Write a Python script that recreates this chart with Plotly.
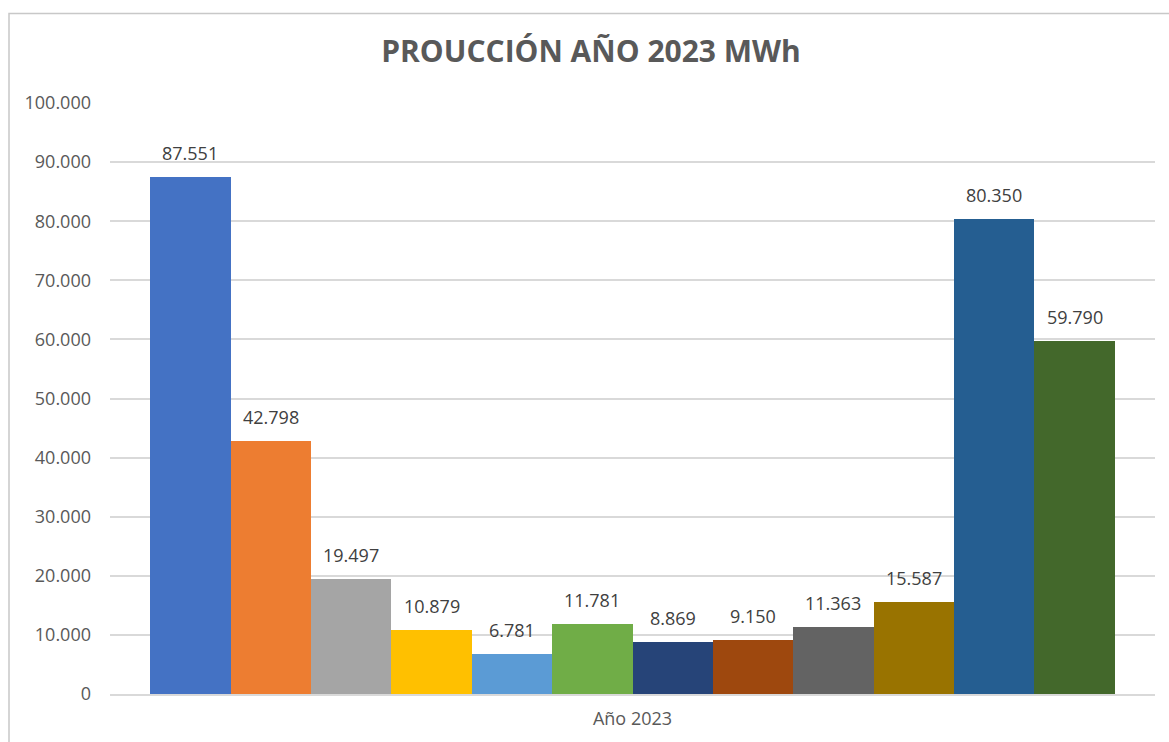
import plotly.graph_objects as go

# Data
category_label = "Año 2023"
series_index = list(range(12))
values = [87551, 42798, 19497, 10879, 6781, 11781, 8869, 9150, 11363, 15587, 80350, 59790]
colors = ["#4472C4", "#ED7D31", "#A5A5A5", "#FFC000", "#5B9BD5", "#70AD47",
          "#264478", "#9E480E", "#636363", "#997300", "#255E91", "#43682B"]
y_ticks = [0, 10000, 20000, 30000, 40000, 50000, 60000, 70000, 80000, 90000, 100000]
title_text = "PROUCCIÓN AÑO 2023 MWh"

FONT = "Open Sans"

def fmt(v):
    return f"{v:,}".replace(",", ".")

fig = go.Figure()
fig.add_trace(go.Bar(
    x=series_index, y=values, width=1,
    marker=dict(color=colors, line=dict(width=0)),
    hoverinfo="y", showlegend=False,
))

for xi, v in zip(series_index, values):
    fig.add_annotation(x=xi, y=v, text=fmt(v), showarrow=False,
                       yanchor="bottom", xanchor="center", yshift=10,
                       font=dict(family=FONT, size=18, color="#404040"))

W, H = 1169, 742
L, R, T, B = 110, 14, 103, 45
pw, ph = W - L - R, H - T - B

def px_x(p):
    return (p - L) / pw

def px_y(p):
    return (H - B - p) / ph

fig.add_shape(type="rect", xref="paper", yref="paper",
              x0=px_x(9), x1=px_x(1185), y0=px_y(760), y1=px_y(13),
              line=dict(color="#C8C8C8", width=1.5), fillcolor="rgba(0,0,0,0)",
              layer="below")

fig.update_layout(
    width=W, height=H,
    margin=dict(l=L, r=R, t=T, b=B),
    paper_bgcolor="white", plot_bgcolor="white",
    separators=",.",
    title=dict(text=title_text, x=591 / W, xanchor="center", xref="container",
               y=1 - 51 / H, yanchor="middle", yref="container",
               font=dict(family=FONT, size=30, color="#595959", weight="bold")),
    xaxis=dict(range=[-1, 12], tickvals=[5.5], ticktext=[category_label],
               showgrid=False, zeroline=False, showline=True, linecolor="#D9D9D9",
               linewidth=1.5, ticks="", ticklabelstandoff=8,
               tickfont=dict(family=FONT, size=18, color="#595959"),
               fixedrange=True),
    yaxis=dict(range=[0, 100000], tickvals=y_ticks, ticktext=[fmt(t) for t in y_ticks],
               showgrid=True, gridcolor="#D9D9D9", gridwidth=1.5, zeroline=False,
               showline=False, ticks="", ticklabelstandoff=18,
               tickfont=dict(family=FONT, size=18, color="#595959"), fixedrange=True),
    bargap=0,
)

fig.write_html("out.html", config={"displayModeBar": False},
               post_script="document.body.style.margin='0';document.body.style.overflow='hidden';")
